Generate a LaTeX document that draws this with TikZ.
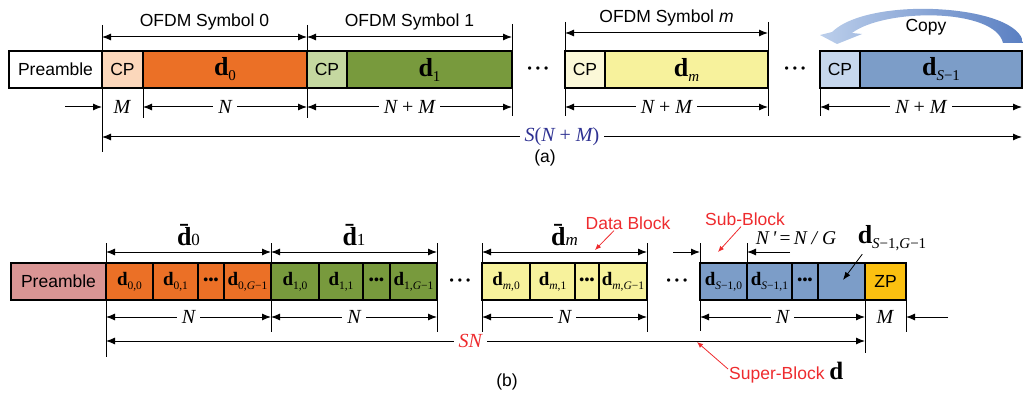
\documentclass[tikz,border=0pt]{standalone}
\usepackage{fontspec}
\setmainfont{Liberation Sans}
\newfontfamily\tms{Liberation Serif}
\usetikzlibrary{arrows.meta, positioning, calc}
\definecolor{symorange}{HTML}{EB7026}
\definecolor{cporange}{HTML}{FBD7BB}
\definecolor{symgreen}{HTML}{789A3D}
\definecolor{cpgreen}{HTML}{C5D8A0}
\definecolor{symyellow}{HTML}{F7F29C}
\definecolor{cpyellow}{HTML}{FBF8D8}
\definecolor{symblue}{HTML}{7C9DC8}
\definecolor{cpblue}{HTML}{C6D7ED}
\definecolor{prepink}{HTML}{D99594}
\definecolor{zpgold}{HTML}{FBC010}
\definecolor{copydark}{HTML}{5A7FC2}
\definecolor{copylite}{HTML}{BCCFEB}
\definecolor{lenblue}{HTML}{2E3192}
\definecolor{notered}{HTML}{EE2B2E}
\newcommand\fsz[1]{\fontsize{#1}{#1}\selectfont}
\newcommand\dsym[1]{{\fsz{26}\tms\bfseries d}\raisebox{-5pt}{\fsz{15}\tms #1}}
\newcommand\dsub[1]{{\fsz{19}\tms\bfseries d}\raisebox{-4pt}{\fsz{11.5}\tms #1}}
\newcommand\dblk[1]{{\fsz{26}\tms\bfseries\=d}{\fsz{17}\tms #1}}
\newcommand\len[1]{{\fsz{20}\tms\itshape #1}}
\newcommand\minus{\textup{−}}
\newcommand\tinydots{{\fsz{14}\textbullet\hspace{0.2pt}\textbullet\hspace{0.2pt}\textbullet}}
\newcommand\gapdots{{\fsz{12}\textbullet\hspace{4pt}\textbullet\hspace{4pt}\textbullet}}
\tikzset{
  cell/.style={rectangle, draw=black, line width=1.6pt, inner sep=0pt, outer sep=0pt, anchor=north west, minimum height=37pt},
  dim/.style={{Latex[length=9pt,width=7pt]}-{Latex[length=9pt,width=7pt]}, line width=1pt},
  sarr/.style={-{Latex[length=9pt,width=7pt]}, line width=1pt},
  tick/.style={line width=1pt},
  lbl/.style={fill=white, inner xsep=5pt, inner ysep=1pt},
  note/.style={text=notered, font=\fsz{17.5}, inner sep=1pt},
  narr/.style={-{Latex[length=6pt,width=5pt]}, line width=0.8pt, notered},
}

\begin{document}
\begin{tikzpicture}[x=1pt, y=-1pt, font=\fsz{17.5}]
  \useasboundingbox (0,0) rectangle (1023,401);

  % (a) OFDM symbols with cyclic prefix
  \node[cell, fill=white, minimum width=93pt] (preA) at (9,51) {Preamble};
  \node[cell, fill=cporange, minimum width=41pt] (cpA0) at (102,51) {CP};
  \node[cell, fill=symorange, minimum width=164pt] (dA0) at (cpA0.north east) {\dsym{0}};
  \node[cell, fill=cpgreen, minimum width=40pt] (cpA1) at (dA0.north east) {CP};
  \node[cell, fill=symgreen, minimum width=165pt] (dA1) at (cpA1.north east) {\dsym{1}};
  \node (dotsA1) at (538,70) {\gapdots};
  \node[cell, fill=cpyellow, minimum width=40pt] (cpAm) at (565,51) {CP};
  \node[cell, fill=symyellow, minimum width=163pt] (dAm) at (cpAm.north east) {\dsym{\textit{m}}};
  \node (dotsA2) at (795,70) {\gapdots};
  \node[cell, fill=cpblue, minimum width=40pt] (cpAS) at (820,51) {CP};
  \node[cell, fill=symblue, minimum width=162pt] (dAS) at (cpAS.north east) {\dsym{\textit{S}\minus1}};

  \foreach \x/\ya/\yb in {102/25/152, 307/25/118, 512/24/116, 565/22/116, 768/22/116, 143/88/118, 820/88/116}
    \draw[tick] (\x,\ya) -- (\x,\yb);

  \draw[dim] (cpA0.west |- 0,37) -- node[above=5pt, inner sep=1pt] {OFDM Symbol 0} (dA0.east |- 0,37);
  \draw[dim] (cpA1.west |- 0,37) -- node[above=5pt, inner sep=1pt] {OFDM Symbol 1} (dA1.east |- 0,37);
  \draw[dim] (cpAm.west |- 0,33) -- node[above=5pt, inner sep=1pt] {OFDM Symbol \textit{m}} (dAm.east |- 0,33);

  \coordinate (inM) at (65,107);
  \draw[sarr] (inM) -- (cpA0.west |- 0,107);
  \node (lenM) at (122,107) {\len{M}};
  \draw[dim] (dA0.west |- 0,107) -- node[lbl] {\len{N}} (dA0.east |- 0,107);
  \draw[dim] (cpA1.west |- 0,107) -- node[lbl] {\len{N \upshape+ \itshape M}} (dA1.east |- 0,107);
  \draw[dim] (cpAm.west |- 0,107) -- node[lbl] {\len{N \upshape+ \itshape M}} (dAm.east |- 0,107);
  \draw[dim] (cpAS.west |- 0,107) -- node[lbl] {\len{N \upshape+ \itshape M}} (dAS.east |- 0,107);
  \draw[dim] (cpA0.west |- 0,137) -- node[lbl, text=lenblue] {\len{S\upshape(\itshape N \upshape+ \itshape M\upshape)}} (dAS.east |- 0,137);

  % copy of the tail into the CP
  \shade[left color=copylite, right color=copydark] (1023,43) .. controls (1020,5) and (870,-5) .. (832,32)
    -- (820,35) -- (837,44) -- (862,34) -- (852,33) .. controls (885,8) and (995,8) .. (1003,43) -- cycle;
  \node (copy) at (926,27) {Copy};
  \node (capA) at (545,158) {(a)};

  % (b) super-block of zero-padded data blocks
  \node[cell, fill=prepink, minimum width=95pt] (preB) at (11,263) {Preamble};
  \node[cell, fill=symorange, minimum width=47pt] (b00) at (preB.north east) {\dsub{0,0}};
  \node[cell, fill=symorange, minimum width=45pt] (b01) at (b00.north east) {\dsub{0,1}};
  \node[cell, fill=symorange, minimum width=26pt] (b0d) at (b01.north east) {\tinydots};
  \node[cell, fill=symorange, minimum width=47pt] (b0g) at (b0d.north east) {\dsub{0,\textit{G}\minus1}};
  \node[cell, fill=symgreen, minimum width=48pt] (b10) at (b0g.north east) {\dsub{1,0}};
  \node[cell, fill=symgreen, minimum width=44pt] (b11) at (b10.north east) {\dsub{1,1}};
  \node[cell, fill=symgreen, minimum width=27pt] (b1d) at (b11.north east) {\tinydots};
  \node[cell, fill=symgreen, minimum width=47pt] (b1g) at (b1d.north east) {\dsub{1,\textit{G}\minus1}};
  \node (dotsB1) at (460,282) {\gapdots};
  \node[cell, fill=symyellow, minimum width=48pt] (bm0) at (482,263) {\dsub{\textit{m},0}};
  \node[cell, fill=symyellow, minimum width=45pt] (bm1) at (bm0.north east) {\dsub{\textit{m},1}};
  \node[cell, fill=symyellow, minimum width=24pt] (bmd) at (bm1.north east) {\tinydots};
  \node[cell, fill=symyellow, minimum width=48pt] (bmg) at (bmd.north east) {\dsub{\textit{m},\textit{G}\minus1}};
  \node (dotsB2) at (677,282) {\gapdots};
  \node[cell, fill=symblue, minimum width=47pt] (bs0) at (700,263) {\dsub{\textit{S}\minus1,0}};
  \node[cell, fill=symblue, minimum width=45pt] (bs1) at (bs0.north east) {\dsub{\textit{S}\minus1,1}};
  \node[cell, fill=symblue, minimum width=26pt] (bsd) at (bs1.north east) {\tinydots};
  \node[cell, fill=symblue, minimum width=47pt] (bsg) at (bsd.north east) {};
  \node[cell, fill=zpgold, minimum width=41pt] (zp) at (bsg.north east) {ZP};

  \foreach \x/\ya/\yb in {106/243/357, 271/243/332, 437/243/332, 482/243/332, 647/243/332, 700/243/331, 747/243/263, 865/300/353, 906/300/332}
    \draw[tick] (\x,\ya) -- (\x,\yb);

  \draw[dim] (b00.west |- 0,252) -- node[above=5pt, inner sep=1pt] {\dblk{0}} (b0g.east |- 0,252);
  \draw[dim] (b10.west |- 0,252) -- node[above=5pt, inner sep=1pt] {\dblk{1}} (b1g.east |- 0,252);
  \draw[dim] (bm0.west |- 0,252) -- node[above=5pt, inner sep=1pt] {\dblk{\textit{m}}} (bmg.east |- 0,252);
  \coordinate (inS) at (673,252);
  \draw[sarr] (inS) -- (bs0.west |- 0,252);
  \coordinate (inNp) at (790,252);
  \draw[sarr] (inNp) -- (bs1.west |- 0,252);
  \node (lenNp) at (796,238) {{\fsz{19.5}\tms\itshape N\,\textquotesingle\,\upshape=\,\itshape N / G}};

  \node[note] (datalbl) at (628,223) {Data Block};
  \coordinate (datatip) at (595,250);
  \draw[narr] ([xshift=-14pt]datalbl.south) -- (datatip);
  \node[note] (sublbl) at (745,219) {Sub-Block};
  \coordinate (subtip) at (718,252);
  \draw[narr] ([xshift=-4pt]sublbl.south) -- (subtip);
  \node (dlast) at (892,238) {\dsym{\textit{S}\minus1,\textit{G}\minus1}};
  \coordinate (lasttip) at (843,280);
  \draw[-{Latex[length=8pt,width=6pt]}, line width=0.8pt] ([xshift=8pt]dlast.south west) -- (lasttip);

  \draw[dim] (b00.west |- 0,317) -- node[lbl] {\len{N}} (b0g.east |- 0,317);
  \draw[dim] (b10.west |- 0,317) -- node[lbl] {\len{N}} (b1g.east |- 0,317);
  \draw[dim] (bm0.west |- 0,317) -- node[lbl] {\len{N}} (bmg.east |- 0,317);
  \draw[dim] (bs0.west |- 0,317) -- node[lbl] {\len{N}} (bsg.east |- 0,317);
  \node (lenZ) at (885,317) {\len{M}};
  \coordinate (inZ) at (948,317);
  \draw[sarr] (inZ) -- (zp.east |- 0,317);
  \draw[dim] (b00.west |- 0,341) -- node[lbl, pos=0.48, text=notered] {\len{SN}} (bsg.east |- 0,341);

  \node[note, anchor=west] (suplbl) at (728,373) {Super-Block {\fsz{25}\tms\bfseries\color{black}d}};
  \coordinate (suptip) at (697,342);
  \draw[narr] ([yshift=4pt]suplbl.west) -- (suptip);
  \node (capB) at (507,382) {(b)};
\end{tikzpicture}
\end{document}
